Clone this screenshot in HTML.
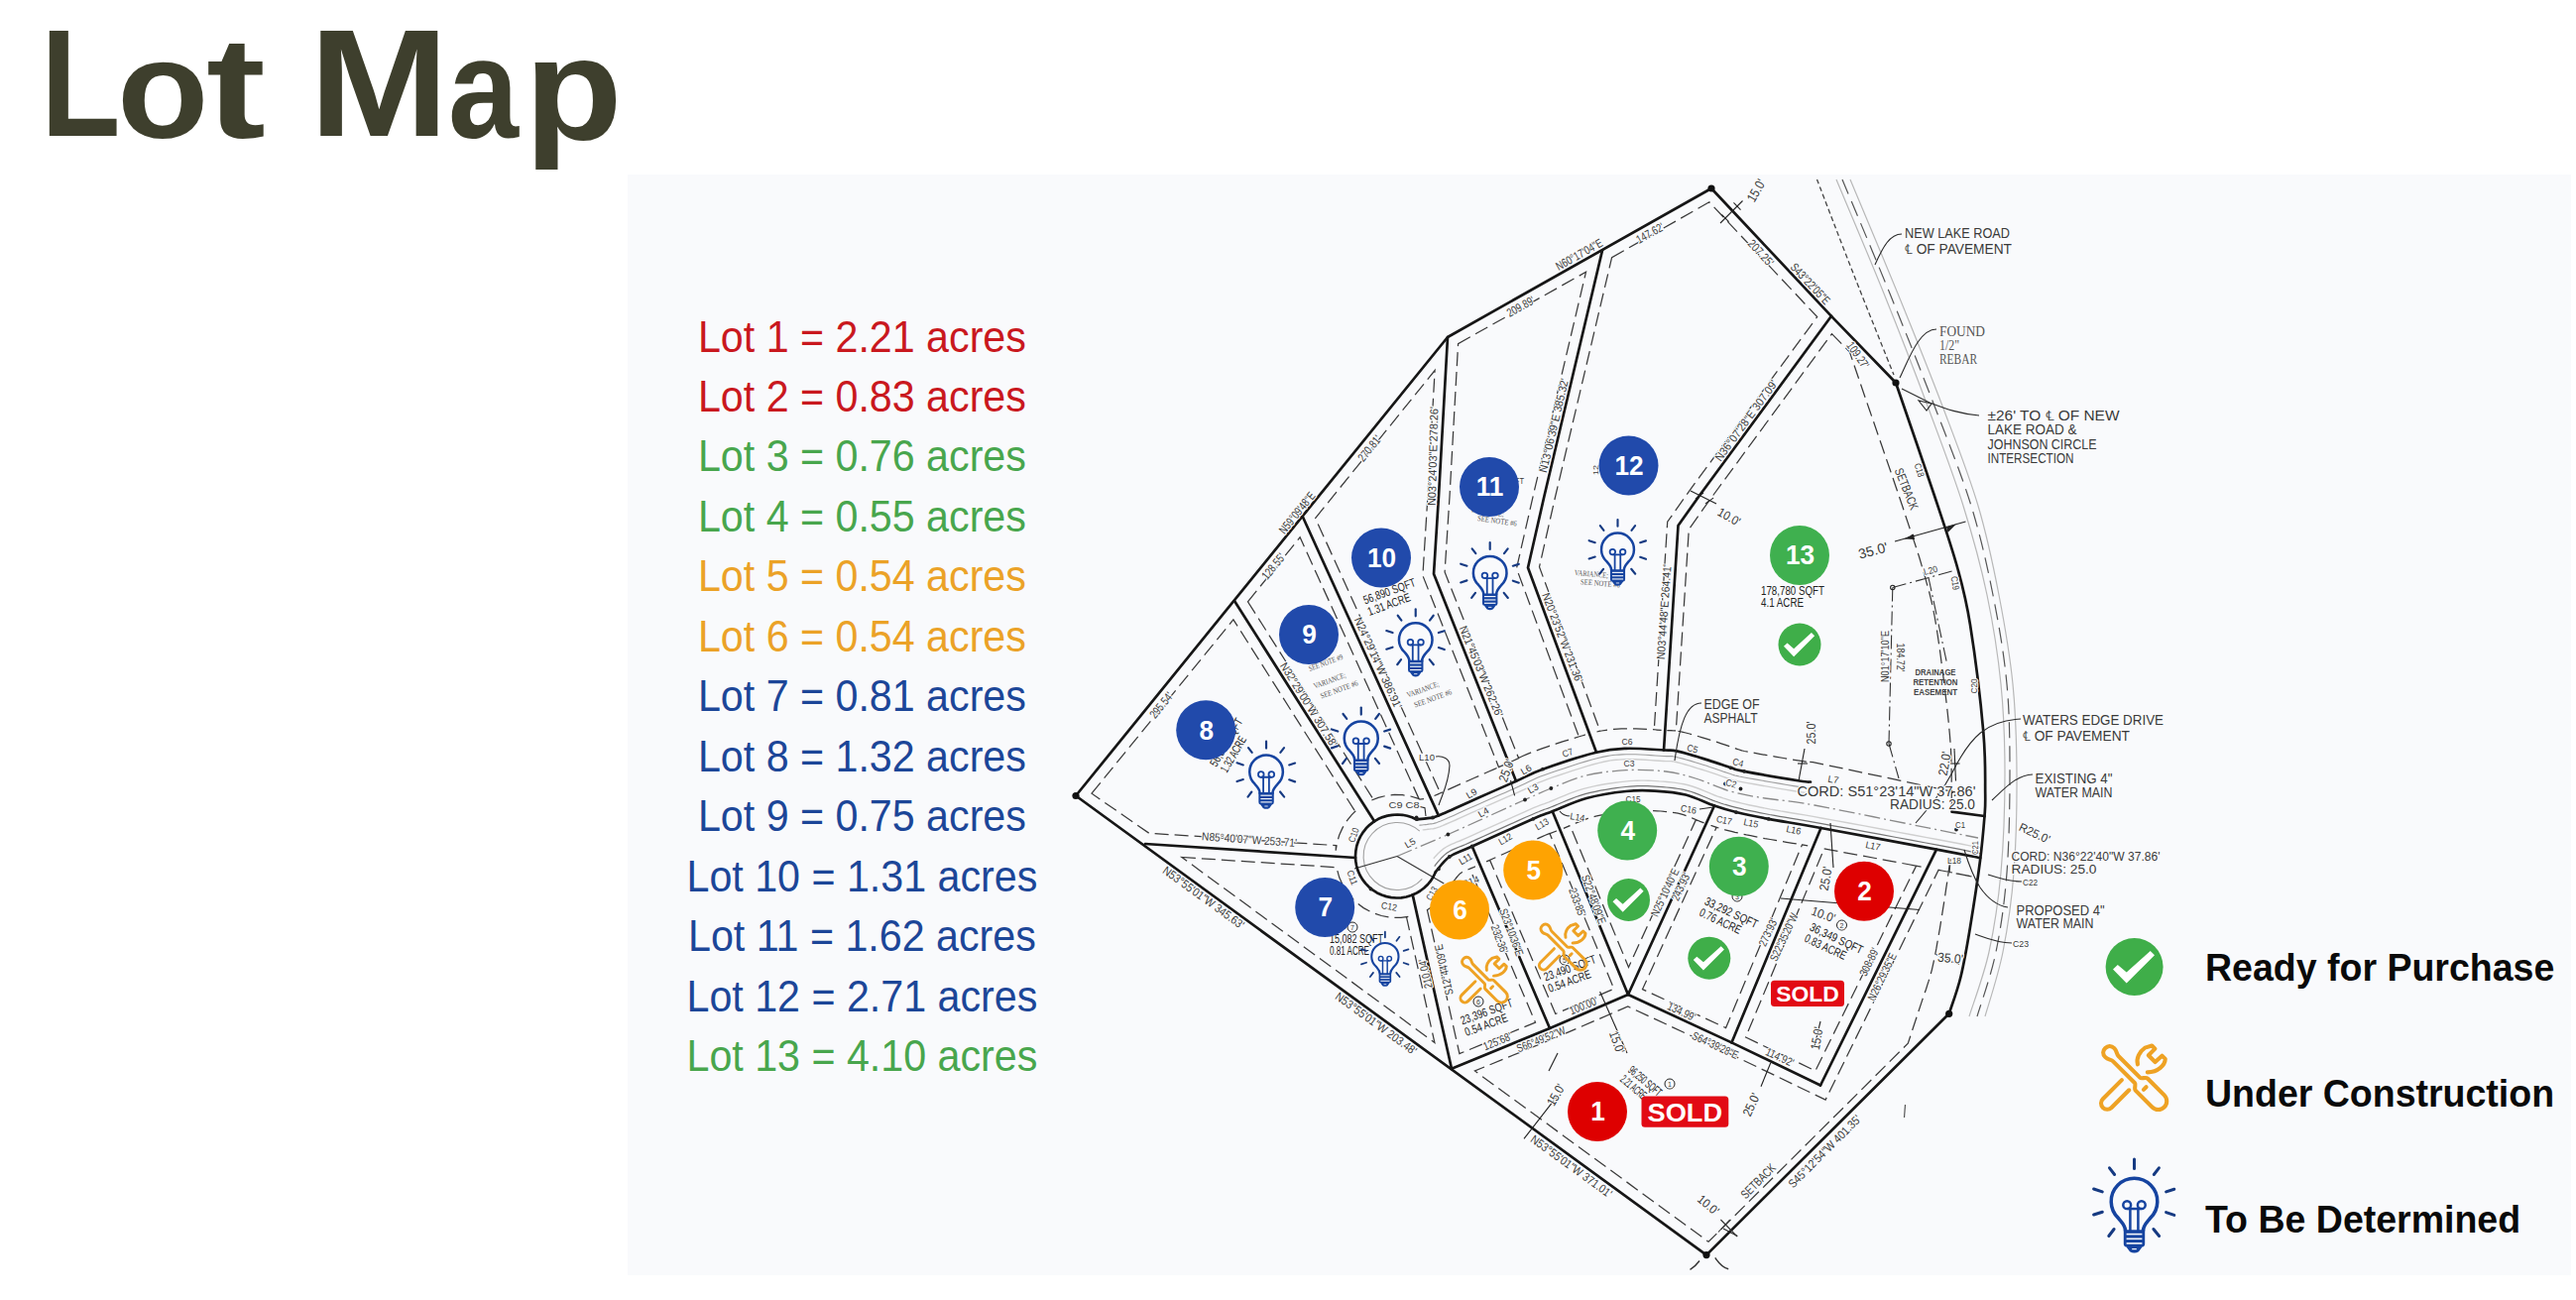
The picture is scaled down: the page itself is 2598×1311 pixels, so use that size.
<!DOCTYPE html>
<html lang="en">
<head>
<meta charset="utf-8">
<title>Lot Map</title>
<style>
html,body{margin:0;padding:0;background:#fff;}
body{width:2598px;height:1311px;overflow:hidden;position:relative;font-family:"Liberation Sans",Arial,sans-serif;}
h1{position:absolute;left:0;top:6.7px;margin:0;width:700px;height:170px;font:700 154.8px/154.8px "Liberation Sans",Arial,sans-serif;color:#3e3f2d;white-space:nowrap;}
h1 span{position:absolute;top:0;transform-origin:0 131.05px;}
#panel{position:absolute;left:633px;top:176px;width:1960px;height:1110px;background:#f9fafc;}
svg#map{position:absolute;left:0;top:0;}
.tk polyline,.tk path{fill:none;stroke:#161616;stroke-width:2.7;stroke-linejoin:round;stroke-linecap:round;}
.sb{fill:none;stroke:#3a3a3a;stroke-width:1.25;stroke-dasharray:14 6;}
.asph{fill:none;stroke:#a0a0a0;stroke-width:1.1;}
.asph2{fill:none;stroke:#cfcfcf;stroke-width:1.4;}
.asphb{fill:none;stroke:#777;stroke-width:1.2;}
.cl{fill:none;stroke:#8a8a8a;stroke-width:1.3;stroke-dasharray:16 4 2 4;}
.thinl{fill:none;stroke:#333;stroke-width:1.1;}
.rd1{fill:none;stroke:#444;stroke-width:1.3;stroke-dasharray:5 3;}
.rd2{fill:none;stroke:#555;stroke-width:1.2;stroke-dasharray:16 8;}
.rg{fill:none;stroke:#b8b8b8;stroke-width:1.2;}
.num{font-family:"Liberation Sans",Arial,sans-serif;font-weight:700;font-size:28.5px;fill:#fff;text-anchor:middle;}
.sold{font-family:"Liberation Sans",Arial,sans-serif;font-weight:700;fill:#fff;}
.lst{font-family:"Liberation Sans",Arial,sans-serif;font-size:43.6px;text-anchor:middle;}
.leg{font-family:"Liberation Sans",Arial,sans-serif;font-weight:700;font-size:39px;fill:#0a0a0a;}
.lb{font-family:"Liberation Sans",Arial,sans-serif;fill:#3a3a3a;paint-order:stroke;stroke:#f9fafc;stroke-width:2.4px;stroke-linejoin:round;}
.lba{fill:#222;}
.lbs{font-family:"Liberation Serif",serif;fill:#555;paint-order:stroke;stroke:#f9fafc;stroke-width:2px;stroke-linejoin:round;}
.lbc{font-family:"Liberation Sans",Arial,sans-serif;font-weight:700;fill:#444;}
</style>
</head>
<body>
<h1><span style="left:40.9px;transform:scaleX(0.8522)">L</span><span style="left:117.7px;transform:translateY(1.94px) scale(0.9786,0.9157)">o</span><span style="left:207.8px;transform:translateY(1.55px) scale(1.1618,0.9366)">t</span> <span style="left:311.5px;transform:scaleX(1.0902)">M</span><span style="left:452.3px;transform:translateY(1.54px) scale(0.8238,0.9169)">a</span><span style="left:529.4px;transform:translateY(4.30px) scale(1.0435,0.9439)">p</span></h1>
<div id="panel"></div>
<svg id="map" width="2598" height="1311" viewBox="0 0 2598 1311">

<defs>
<g id="bulb" fill="none" stroke="#1644a0" stroke-linecap="round" stroke-linejoin="round">
 <g stroke-width="3" stroke="#163a82">
  <line x1="52.5" y1="9" x2="52.5" y2="18.6"/>
  <line x1="27.5" y1="17.8" x2="32.6" y2="24.5"/>
  <line x1="77.4" y1="17.8" x2="72.3" y2="24.5"/>
  <line x1="11.6" y1="39" x2="20.3" y2="41.9"/>
  <line x1="92.8" y1="39.3" x2="84.6" y2="41.9"/>
  <line x1="11.6" y1="65" x2="20.3" y2="62.2"/>
  <line x1="92.8" y1="65.4" x2="84.6" y2="62.6"/>
  <line x1="26.8" y1="86.5" x2="32.1" y2="79.5"/>
  <line x1="77.6" y1="86.5" x2="71.9" y2="79.5"/>
 </g>
 <path stroke-width="3.5" d="M43.6,81.5 C43.6,75.5 39.5,72.3 36.6,68.6 A23.3,23.3 0 1 1 68.4,68.6 C65.5,72.3 61.4,75.5 61.4,81.5"/>
 <g stroke-width="2.5">
  <path d="M48.4,81 L48.4,59 M56.4,81 L56.4,59 M46,59 L59,59"/>
  <circle cx="45.2" cy="55.2" r="3.9"/>
  <circle cx="59.8" cy="55.2" r="3.9"/>
 </g>
 <path fill="#1644a0" stroke="none" d="M41.8,80.2 H63.2 V94.2 Q63.2,97.2 60.5,97.4 L57,102.2 Q52.5,104.6 48,102.2 L44.5,97.4 Q41.8,97.2 41.8,94.2 Z"/>
 <g stroke="#f6f8fb" stroke-width="1.6" stroke-linecap="butt">
  <line x1="44.6" y1="84.6" x2="60.4" y2="84.6"/>
  <line x1="44.6" y1="89.3" x2="60.4" y2="89.3"/>
  <line x1="44.6" y1="93.9" x2="60.4" y2="93.9"/>
  <line x1="50.2" y1="99.6" x2="54.8" y2="99.6" stroke-width="1.2"/>
 </g>
</g>
<g id="tools" fill="none" stroke="#eea224" stroke-width="4.1" stroke-linecap="round" stroke-linejoin="round">
 <g transform="translate(13.6,12.4) rotate(45)">
  <path d="M14.5,-3.8 L45.5,-3.8 C47.5,-3.8 48.5,-8.6 51.5,-8.6 L75,-8.6 A8.6,8.6 0 0 1 75,8.6 L51.5,8.6 C48.5,8.6 47.5,3.8 45.5,3.8 L14.5,3.8 C11.5,3.8 10,6.4 6,6.4 C1.5,6.4 -0.5,3.5 -0.5,0 C-0.5,-3.5 1.5,-6.4 6,-6.4 C10,-6.4 11.5,-3.8 14.5,-3.8 Z"/>
  <line x1="56.4" y1="-1.5" x2="56.4" y2="2.2"/>
 </g>
 <g transform="translate(15.2,67.6) rotate(-45)">
  <path d="M27,-6.2 L0,-6.2 A6.2,6.2 0 0 0 0,6.2 L25,6.2"/>
  <path d="M49.5,-6 C52.5,-11.5 60,-13.8 66.5,-12.6 L73,-9.2 L73,-4.8 L63.6,-4.8 L63.6,4.8 L73,5.2 L73,9.8 C68.5,14 58.5,14.2 50.8,6.6"/>
 </g>
</g>
<g id="check">
 <circle cx="0" cy="0" r="29" fill="#3fae49"/>
 <polygon fill="#fff" points="-21.6,2.5 -16.8,-2.1 -7.9,5.6 16.1,-16.1 20.4,-11.8 -7.9,16.5"/>
</g>
</defs>
<g class="lst-g">
<text class="lst" fill="#c9181e" transform="translate(869.4,354.5) scale(0.945,1)">Lot 1 = 2.21 acres</text>
<text class="lst" fill="#c9181e" transform="translate(869.4,414.9) scale(0.945,1)">Lot 2 = 0.83 acres</text>
<text class="lst" fill="#48a64d" transform="translate(869.4,475.4) scale(0.945,1)">Lot 3 = 0.76 acres</text>
<text class="lst" fill="#48a64d" transform="translate(869.4,535.9) scale(0.945,1)">Lot 4 = 0.55 acres</text>
<text class="lst" fill="#eba227" transform="translate(869.4,596.3) scale(0.945,1)">Lot 5 = 0.54 acres</text>
<text class="lst" fill="#eba227" transform="translate(869.4,656.8) scale(0.945,1)">Lot 6 = 0.54 acres</text>
<text class="lst" fill="#1c4698" transform="translate(869.4,717.2) scale(0.945,1)">Lot 7 = 0.81 acres</text>
<text class="lst" fill="#1c4698" transform="translate(869.4,777.7) scale(0.945,1)">Lot 8 = 1.32 acres</text>
<text class="lst" fill="#1c4698" transform="translate(869.4,838.1) scale(0.945,1)">Lot 9 = 0.75 acres</text>
<text class="lst" fill="#1c4698" transform="translate(869.4,898.6) scale(0.945,1)">Lot 10 = 1.31 acres</text>
<text class="lst" fill="#1c4698" transform="translate(869.4,959) scale(0.945,1)">Lot 11 = 1.62 acres</text>
<text class="lst" fill="#1c4698" transform="translate(869.4,1019.5) scale(0.945,1)">Lot 12 = 2.71 acres</text>
<text class="lst" fill="#48a64d" transform="translate(869.4,1079.9) scale(0.945,1)">Lot 13 = 4.10 acres</text>
</g>
<g class="road">
<path class="rd1" d="M1832.5,181 C1838.8,197.2 1857.1,245.2 1870,278 C1882.9,310.8 1903.3,361.3 1910,378"/>
<path class="rg" d="M1852,181 C1860,200.2 1884.5,257.5 1900,296 C1915.5,334.5 1931.7,376.3 1945,412 C1958.3,447.7 1970.2,478.7 1980,510 C1989.8,541.3 1997.7,570 2004,600 C2010.3,630 2015,660 2018,690 C2021,720 2022,748.3 2022,780 C2022,811.7 2020.7,850 2018,880 C2015.3,910 2011.3,935.8 2006,960 C2000.7,984.2 1989.3,1014.2 1986,1025"/>
<path class="rd2" d="M1858,181 C1866,200.2 1890.3,257.5 1906,296 C1921.7,334.5 1938.3,376.3 1952,412 C1965.7,447.7 1978.3,478.7 1988,510 C1997.7,541.3 2004,570 2010,600 C2016,630 2021.2,660 2024,690 C2026.8,720 2027,748.3 2027,780 C2027,811.7 2026.3,850 2024,880 C2021.7,910 2018,935.8 2013,960 C2008,984.2 1997.2,1014.2 1994,1025"/>
<path class="rg" d="M1866,181 C1874,200.2 1898.3,257.5 1914,296 C1929.7,334.5 1946.5,376.3 1960,412 C1973.5,447.7 1985.7,478.7 1995,510 C2004.3,541.3 2010.2,570 2016,600 C2021.8,630 2027,660 2030,690 C2033,720 2033.8,748.3 2034,780 C2034.2,811.7 2033.3,850 2031,880 C2028.7,910 2024.8,935.8 2020,960 C2015.2,984.2 2005,1014.2 2002,1025"/>
</g>
<g>
<polygon class="sb" points="1470.6,346.6 1599.5,274.3 1546.8,497.5 1529.5,573.3 1592.3,742.7 1598.9,741 1591.9,743 1584.4,745.3 1576.7,747.7 1569.1,750.2 1561.8,752.6 1555.1,754.9 1549.2,757 1544.2,758.9 1539.9,760.6 1536.1,762.2 1532.9,763.8 1530,765.2 1527.2,766.6 1524.3,768 1531.6,764.6 1457.1,577 1462,500.7"/>
<polygon class="sb" points="1326.6,522.6 1447.1,373.5 1440,499.3 1434.9,580.5 1511.5,773.6 1516.6,771.4 1512,773.4 1507.2,775.6 1502.2,777.8 1497.1,780 1492,782.3 1486.9,784.5 1481.9,786.7 1476.7,789 1471.3,791.4 1465.8,793.9 1460.4,796.4 1455.3,798.7 1450.6,800.8 1446.5,802.5 1452.7,799.9"/>
<polygon class="sb" points="1625.6,259.7 1723.9,203.8 1832.7,319.6 1704.8,493.6 1681.7,526.2 1668.3,735.9 1675.6,736.3 1671.3,736 1666.5,735.7 1661.2,735.4 1655.7,735.1 1650.1,734.9 1644.6,734.7 1639.6,734.8 1635.3,734.9 1631.5,735.1 1627.7,735.3 1623.7,735.7 1619.6,736.3 1615.2,737 1610.5,738 1613.8,737.2 1552.5,571.7 1568.2,502.5"/>
<polygon class="sb" points="1847.5,336.6 1865.5,355.1 1882.2,404 1885.4,413.2 1889.2,424.2 1893.4,436.5 1897.9,449.5 1902.5,463 1907.1,476.3 1911.4,489 1915.4,500.7 1918.8,510.8 1921.7,519.7 1924.5,528.1 1927.1,535.9 1929.5,543.1 1931.8,550 1933.9,556.5 1935.9,562.8 1937.7,568.9 1939.5,575 1941.3,581.2 1942.9,587.2 1944.4,592.6 1945.8,597.5 1946.9,602.1 1948,606.5 1949,611 1950,616 1951.1,621.5 1952.2,627.9 1953.4,635.3 1954.7,644 1956.2,653.8 1957.6,664.7 1959.1,676.1 1960.6,687.9 1962,699.7 1963.4,711.2 1964.6,722.2 1965.6,732.2 1966.4,741 1967,748.7 1967.5,755.8 1967.8,762.5 1968,768.8 1968.1,774.8 1968.2,780.4 1968.2,785.7 1968.2,790.8 1968.2,795.7 1968.2,800.4 1968.3,804.2 1968.3,807 1968.3,809.1 1968.3,810.4 1968.3,811.3 1968.2,812.2 1968.2,813.3 1968,815 1967.8,817.3 1969.3,798.5 1971.9,798.9 1828.4,768.6 1824.6,768.4 1823,768.6 1824.1,768.6 1824.3,768.6 1823.5,768.5 1821.4,768.2 1818.1,767.7 1813.1,766.9 1806.5,765.8 1798.8,764.5 1790.5,763.1 1782.3,761.7 1774.6,760.3 1767.9,759.1 1762.7,758.1 1759.3,757.5 1757.2,757 1756.3,756.8 1756.4,756.9 1756.6,756.9 1755.8,756.6 1754.1,756 1751.9,755.3 1749.7,754.6 1747.4,753.8 1744.9,752.9 1742.1,751.9 1739.1,750.9 1735.9,749.8 1732.5,748.6 1729,747.5 1725.3,746.4 1721.3,745.1 1717,743.8 1712.6,742.5 1708.3,741.2 1704,740 1700.1,739 1696.4,738.1 1693.4,737.5 1690.7,737 1688.1,736.7 1685.7,736.6 1684,736.6 1682.7,736.6 1681.3,736.6 1690.3,737 1703.3,533.8 1722.7,506.4"/>
<polygon class="sb" points="1258.5,606.8 1311.1,541.8 1431.6,806.7 1436.4,805.5 1432,806 1430.6,805.3 1422.7,803 1414.5,801.7 1406.3,801.5 1398.1,802.4 1390.1,804.4 1382.4,807.4 1385,806"/>
<polygon class="sb" points="1101,800.2 1243.9,624.8 1366.5,817.9 1368.8,816.2 1363.1,821.8 1358.1,828 1354,834.9 1350.7,842.2 1348.5,849.8 1347.2,857.7 1347.4,852.6 1158.8,840.2"/>
<polygon class="sb" points="1191.9,864.5 1348,874.7 1348.1,875.5 1350.8,885.1 1355,894.1 1360.5,902.3 1367.3,909.5 1375.2,915.6 1383.9,920.3 1393.3,923.5 1403.1,925.3 1413,925.4 1422.8,924 1418.6,925.3 1446.9,1051.5"/>
<polygon class="sb" points="1439.4,917.6 1439.7,917.4 1446.6,912.8 1452.9,907.4 1458.3,901.1 1462.9,894.2 1464.9,890.2 1464.5,890.6 1466,888.6 1467.5,886.8 1468.9,885 1470.3,883.3 1471.6,881.9 1472.6,880.9 1473.5,880.2 1474.4,879.7 1475.2,879.2 1476.2,878.7 1477.8,878 1480.3,877.1 1483.6,875.7 1487.8,874 1482.5,876.3 1548.5,1031.1 1471.9,1062.6"/>
<polygon class="sb" points="1502.6,867.4 1499.1,868.9 1506.6,865.5 1515.1,861.7 1523.9,857.7 1532.8,853.7 1541.1,850 1548.5,846.7 1554.3,844.1 1558.5,842.3 1561.3,841.1 1563.2,840.4 1564.5,839.9 1565.7,839.5 1567.4,838.9 1569.8,838 1563,840.6 1627.7,997.2 1568.8,1022.5"/>
<polygon class="sb" points="1583.5,832.6 1576.9,835.3 1580.9,833.6 1585,831.8 1589.2,830.1 1593.4,828.4 1597.5,826.8 1601.5,825.4 1605.3,824.3 1609.4,823.2 1614,822.2 1618.8,821.3 1623.7,820.4 1628.6,819.6 1633.4,819 1637.9,818.4 1642.1,817.9 1645.8,817.5 1649.1,817.3 1652.1,817.2 1655,817.1 1657.9,817.1 1661,817.2 1664.2,817.4 1667.6,817.6 1671.3,817.8 1674.9,818 1678.6,818.4 1682.2,818.7 1685.6,819.1 1689,819.7 1692.2,820.2 1695.1,820.9 1697.8,821.7 1700.8,822.7 1704,823.9 1707.4,825.3 1710.9,826.8 1714.6,828.4 1718.5,829.9 1710.3,826.9 1642.5,975.4"/>
<polygon class="sb" points="1731.1,834.3 1725.6,832.5 1728.5,833.4 1731.3,834.3 1734.1,835.2 1736.9,836 1739.8,836.8 1742.9,837.6 1746.2,838.4 1749.8,839.3 1753.5,840.1 1757.3,841 1761.3,841.9 1765.5,842.7 1770,843.6 1774.8,844.6 1780,845.6 1785.4,846.5 1790.6,847.4 1796,848.3 1801.6,849.3 1807.8,850.3 1815,851.5 1823.2,852.9 1817.5,851.9 1740.6,1036.6 1656.5,997.6"/>
<polygon class="sb" points="1839.7,855.9 1844.9,856.9 1859.2,859.5 1875.1,862.4 1891.6,865.5 1908.1,868.6 1923.8,871.5 1937.8,874.1 1932.6,873.1 1830.9,1079.9 1760.6,1046"/>
<polygon class="sb" points="1955.1,877.3 1958.5,878 1966.4,879.5 1973,880.8 1978.5,881.9 1983.1,882.8 1987,883.6 1990.4,884.2 1966.1,879.5 1967.1,865 1966.5,869.9 1965.6,876.1 1964.7,882.8 1963.7,889.7 1962.6,896.8 1961.6,903.8 1960.5,910.8 1959.4,917.6 1958.4,924.1 1957.4,930.1 1956.5,935.8 1955.5,941.3 1954.6,946.5 1953.7,951.6 1952.9,956.4 1952,961 1951.1,965.5 1950.2,969.8 1949.3,973.9 1948.4,977.8 1947.4,981.6 1946.3,985.4 1945.1,989.4 1943.8,993.4 1942.6,997.2 1941.3,1001 1940.1,1004.4 1939,1007.6 1938,1010.6 1924.3,1052.2 1723.1,1252.3 1487.4,1080 1567.3,1047.1 1641.8,1015 1741.7,1061.3 1841.1,1109.1"/>
</g>
<g>
<polyline class="asph" points="1431.3,832.2 1432.7,832.1 1434.2,832 1435.9,831.8 1437.7,831.6 1439.4,831.4 1440.9,831.1 1441.9,831 1442.5,830.9 1443.4,830.9 1444.6,830.7 1446.2,830.4 1448,829.9 1450.2,829.1 1453,828 1456.7,826.4 1461,824.6 1465.9,822.4 1471.1,820.1 1476.5,817.6 1482,815.1 1487.4,812.7 1492.4,810.5 1497.4,808.3 1502.5,806.1 1507.6,803.8 1512.7,801.6 1517.7,799.4 1522.5,797.2 1527.1,795.2 1531.5,793.3 1535.3,791.5 1538.6,789.9 1541.5,788.5 1544.2,787.2 1546.9,785.9 1550,784.6 1553.6,783.1 1558,781.4 1563.6,779.5 1570.1,777.3 1577.2,774.9 1584.6,772.5 1592.1,770.1 1599.3,767.9 1605.8,766 1611.5,764.5 1616.2,763.4 1620.1,762.6 1623.6,762 1626.7,761.5 1629.7,761.3 1632.8,761.1 1636.2,760.9 1640.1,760.8 1644.5,760.7 1649.3,760.8 1654.4,761 1659.7,761.3 1664.8,761.6 1669.6,762 1674,762.3 1677.7,762.5 1680.6,762.6 1682.8,762.6 1684.3,762.6 1685.4,762.6 1686.1,762.6 1687,762.7 1688.5,763 1690.7,763.5 1693.6,764.2 1697.2,765.1 1701.1,766.2 1705.2,767.4 1709.5,768.7 1713.7,770 1717.6,771.2 1721.2,772.3 1724.4,773.4 1727.6,774.4 1730.6,775.4 1733.5,776.5 1736.3,777.4 1738.9,778.4 1741.5,779.2 1743.8,780 1745.5,780.6 1746.5,780.9 1747.4,781.3 1748.4,781.6 1749.8,782 1751.6,782.4 1754.2,783 1757.9,783.7 1763.2,784.7 1770,785.9 1777.8,787.3 1786.1,788.7 1794.4,790.1 1802.2,791.5 1808.9,792.6 1814.1,793.4 1817.8,794 1820.5,794.3 1822.5,794.5 1824,794.6 1825.2,794.6 1825.7,794.5 1825.8,794.5"/>
<polyline class="asph2" points="1434.7,836.9 1436.4,836.8 1438.3,836.6 1440.1,836.3 1441.7,836.1 1442.4,836 1442.8,835.9 1443.8,835.9 1445.5,835.7 1447.4,835.3 1449.5,834.6 1451.9,833.8 1454.9,832.6 1458.6,831 1463,829.1 1467.9,827 1473.1,824.6 1478.6,822.2 1484.1,819.7 1489.4,817.3 1494.5,815.1 1499.4,812.9 1504.5,810.6 1509.6,808.4 1514.7,806.1 1519.7,803.9 1524.5,801.8 1529.1,799.8 1533.5,797.8 1537.4,796.1 1540.8,794.4 1543.7,793 1546.3,791.7 1549,790.5 1551.9,789.2 1555.4,787.8 1559.8,786.1 1565.2,784.2 1571.7,782 1578.8,779.6 1586.2,777.2 1593.6,774.9 1600.7,772.7 1607.2,770.8 1612.7,769.4 1617.3,768.3 1621.1,767.5 1624.3,766.9 1627.2,766.5 1630.1,766.2 1633.1,766.1 1636.4,765.9 1640.2,765.8 1644.5,765.7 1649.2,765.8 1654.2,766 1659.4,766.3 1664.4,766.6 1669.3,767 1673.6,767.3 1677.4,767.5 1680.5,767.6 1682.8,767.6 1684.4,767.6 1685.3,767.6 1685.7,767.6 1686.3,767.7 1687.5,767.9 1689.6,768.3 1692.4,769 1695.8,769.9 1699.7,771 1703.8,772.2 1708,773.5 1712.2,774.8 1716.2,776 1719.7,777.1 1722.9,778.1 1725.9,779.1 1728.9,780.2 1731.8,781.2 1734.6,782.2 1737.3,783.1 1739.9,784 1742.3,784.8 1743.9,785.3 1744.8,785.6 1745.6,785.9 1746.9,786.4 1748.5,786.9 1750.5,787.3 1753.2,787.9 1757,788.6 1762.3,789.6 1769.1,790.8 1777,792.2 1785.3,793.6 1793.6,795.1 1801.3,796.4 1808.1,797.5 1813.3,798.4 1817.1,798.9 1819.9,799.3 1822.1,799.5 1824,799.6 1825.6,799.6 1826.1,799.5"/>
<polyline class="asphb" points="1446.7,873.6 1448.2,871.7 1450,869.4 1452,867.1 1454.2,864.7 1456.6,862.4 1459.2,860.3 1461.6,858.7 1463.9,857.4 1466.2,856.4 1468.6,855.4 1471.2,854.3 1474.3,853.1 1478.2,851.5 1482.9,849.4 1489,846.6 1496.5,843.2 1505,839.4 1513.9,835.4 1522.7,831.4 1531.1,827.6 1538.5,824.3 1544.5,821.7 1548.9,819.8 1552.1,818.5 1554.4,817.5 1556.2,816.9 1557.7,816.3 1559.3,815.8 1561.3,815.1 1564.1,814 1567.5,812.6 1571.3,811 1575.5,809.2 1579.8,807.4 1584.4,805.6 1589.1,803.8 1594,802.1 1598.8,800.7 1603.8,799.4 1608.9,798.3 1614.2,797.2 1619.6,796.3 1624.9,795.4 1630,794.7 1635,794 1639.5,793.5 1643.7,793.1 1647.7,792.8 1651.4,792.7 1654.9,792.6 1658.4,792.6 1661.9,792.7 1665.4,792.9 1669.1,793.1 1672.9,793.3 1676.8,793.6 1680.8,794 1684.9,794.4 1689,794.9 1693,795.5 1697.1,796.2 1701.1,797.1 1705.1,798.3 1709.1,799.6 1713,801.1 1716.8,802.7 1720.5,804.2 1724,805.7 1727.3,807.1 1730.5,808.3 1733.4,809.3 1736.1,810.2 1738.6,811 1741.1,811.7 1743.5,812.4 1746.1,813.1 1748.9,813.8 1752.1,814.6 1755.5,815.4 1759,816.3 1762.6,817.1 1766.4,817.9 1770.4,818.7 1774.7,819.6 1779.4,820.5 1784.5,821.5 1789.7,822.4 1794.7,823.3 1800,824.2 1805.6,825.1 1811.9,826.1 1819.1,827.4 1827.5,828.8 1837.3,830.6 1849.3,832.8 1863.7,835.4 1879.5,838.3 1896.1,841.4 1912.6,844.5 1928.3,847.4 1942.3,850 1953.8,852.2 1963.1,853.9 1971,855.4 1977.7,856.7 1983.3,857.8 1987.9,858.8 1991.8,859.5 1995.2,860.2 1998.1,860.8"/>
<polyline class="asph2" points="1445.8,865.8 1447.8,863.4 1450.3,860.8 1453,858.2 1455.9,855.9 1458.8,854 1461.4,852.6 1463.9,851.3 1466.5,850.3 1469.2,849.2 1472.3,848 1476,846.4 1480.6,844.4 1486.7,841.6 1494.2,838.2 1502.7,834.4 1511.6,830.4 1520.5,826.4 1528.9,822.6 1536.3,819.3 1542.3,816.6 1546.7,814.7 1550,813.4 1552.4,812.4 1554.3,811.7 1555.9,811.1 1557.5,810.6 1559.4,809.9 1562.1,808.9 1565.4,807.5 1569.2,805.9 1573.3,804.2 1577.8,802.3 1582.4,800.4 1587.3,798.6 1592.3,796.9 1597.3,795.4 1602.5,794.1 1607.8,792.9 1613.2,791.8 1618.7,790.8 1624.1,790 1629.3,789.2 1634.3,788.6 1639,788.1 1643.3,787.6 1647.4,787.4 1651.2,787.2 1654.9,787.1 1658.5,787.1 1662.1,787.2 1665.7,787.4 1669.4,787.6 1673.3,787.9 1677.3,788.1 1681.3,788.5 1685.5,788.9 1689.7,789.4 1694,790.1 1698.2,790.8 1702.5,791.8 1706.7,793 1711,794.5 1715,796 1718.9,797.6 1722.6,799.2 1726.1,800.7 1729.3,802 1732.3,803.1 1735.2,804 1737.8,804.9 1740.3,805.7 1742.6,806.4 1745,807.1 1747.5,807.8 1750.3,808.5 1753.4,809.3 1756.7,810.1 1760.2,810.9 1763.7,811.7 1767.5,812.5 1771.5,813.3 1775.8,814.2 1780.5,815.1 1785.5,816.1 1790.7,817 1795.7,817.9 1800.9,818.7 1806.5,819.7 1812.8,820.7 1820,821.9 1828.5,823.4 1838.3,825.2 1850.3,827.4 1864.7,830 1880.5,832.9 1897.1,836 1913.6,839.1 1929.3,842 1943.3,844.6 1954.9,846.8 1964.2,848.5 1972.1,850 1978.7,851.3 1984.3,852.4 1989,853.4 1992.9,854.2 1996.2,854.8 1999.1,855.4"/>
<path class="asph" d="M1431.8,838.2 A34,34 0 1,0 1434.3,886.3"/>
<path class="cl" d="M1409,863.5 C1417.6,859.8 1438.9,851 1460.4,841.5 C1481.9,832 1520.7,814.2 1538,806.5 C1555.3,798.8 1554,799.1 1564.3,795 C1574.6,790.9 1587.4,785 1600,782 C1612.6,779 1626.7,777.4 1640,776.7 C1653.3,776 1668.3,776.6 1680,778 C1691.7,779.4 1699.2,781.7 1710,785 C1720.8,788.3 1733.3,794.7 1745,798 C1756.7,801.3 1765.8,802.7 1780,805 C1794.2,807.3 1801.7,806.8 1830,812 C1858.3,817.2 1922.5,830.5 1950,836 C1977.5,841.5 1987.5,843.5 1995,845"/>
<polyline class="thinl" points="1409,863.5 1456.3,891"/>
<polyline class="thinl" points="1409,863.5 1366,876"/>
</g>
<g class="tk">
<polyline points="1085,802.5 1460,340 1726,190 1847,318.8 1912,386"/>
<path d="M1912,386 C1918.5,405 1940.7,469 1951,500 C1961.3,531 1968,550.3 1974,572 C1980,593.7 1982.6,602.3 1987,630 C1991.4,657.7 1997.8,709.7 2000.3,738 C2002.8,766.3 2002,785.8 2002.2,800 C2002.4,814.2 2002.4,811.7 2001.5,823 C2000.6,834.3 1999.4,849.3 1997,868 C1994.6,886.7 1990.2,915.5 1987,935 C1983.8,954.5 1981,970.5 1977.5,985 C1974,999.5 1967.7,1016.1 1965.7,1022.3"/>
<polyline points="1965.7,1022.3 1721,1265.6 1085,802.5"/>
<polyline points="1245,606 1386.1,828.3"/>
<polyline points="1313.8,521 1450.8,822.4"/>
<polyline points="1460,340 1451,500 1446,578.8 1529,787.8"/>
<polyline points="1616,252.5 1557.5,500 1541,572.5 1610,758.7"/>
<polyline points="1847,318.8 1713.8,500 1692.5,530 1678,756.5"/>
<polyline points="1155,851 1367,865"/>
<polyline points="1424.7,902.4 1464,1077.8"/>
<polyline points="1484.7,853.5 1563,1037"/>
<polyline points="1565.7,818.2 1642,1003"/>
<polyline points="1729,812.5 1642,1003"/>
<polyline points="1836.5,835 1746.4,1051.4"/>
<polyline points="1953,856.6 1836,1094.5"/>
<polyline points="1464,1077.8 1563,1037 1642,1003 1746.4,1051.4 1836,1094.5"/>
<polyline points="1428.7,826.4 1424.1,824.3 1419.3,822.8 1414.3,821.8 1409.3,821.5 1404.2,821.8 1399.3,822.6 1394.4,824.1 1389.8,826.1 1385.5,828.7 1381.4,831.8 1377.8,835.3 1374.7,839.3 1372,843.6 1369.9,848.2 1368.3,853 1367.4,857.9 1367,863 1367.2,868 1368.1,873 1369.5,877.9 1371.5,882.5 1374.1,886.9 1377.2,890.9 1380.7,894.5 1384.6,897.7 1388.9,900.4 1393.5,902.5 1398.3,904.1 1403.2,905.1 1408.3,905.5 1413.3,905.3 1418.3,904.5 1423.2,903 1427.8,901.1 1432.2,898.5 1436.2,895.5 1439.9,892 1443.1,888.1 1445.8,883.8 1447.9,879.2"/>
<path d="M1428.7,826.4 C1430.6,826.2 1436.3,825.9 1440,825.2 C1443.7,824.5 1442.5,825.8 1450.8,822.4 C1459.1,819 1477,810.8 1490,805 C1503,799.2 1518,792.7 1529,787.8 C1540,782.9 1542.5,780.6 1556,775.8 C1569.5,770.9 1596,762.2 1610,758.7 C1624,755.2 1628.7,755.2 1640,754.8 C1651.3,754.4 1669.3,756 1678,756.5 C1686.7,757 1684.5,755.9 1692,757.6 C1699.5,759.3 1714,763.8 1723,766.6 C1732,769.4 1739.7,772.4 1745.7,774.3 C1751.7,776.2 1747.5,775.6 1759,777.8 C1770.5,780 1803.8,785.7 1815,787.5 C1826.2,789.3 1824.2,788.3 1826,788.5"/>
<path d="M1447.9,879.2 C1450.3,876.7 1455.7,868.3 1461.8,864 C1467.9,859.7 1470.6,859.9 1484.7,853.5 C1498.8,847.1 1532.8,831.7 1546.3,825.8 C1559.8,819.9 1556.8,821.7 1565.7,818.2 C1574.7,814.7 1587.6,808.4 1600,805 C1612.4,801.6 1628.5,799.2 1640,798 C1651.5,796.8 1658.8,797 1668.8,797.6 C1678.8,798.2 1690,799 1700,801.5 C1710,804 1720.5,809.6 1729,812.5 C1737.5,815.4 1741.9,816.8 1751,819 C1760.1,821.2 1769.5,823.2 1783.7,825.9 C1798,828.6 1808.3,829.9 1836.5,835 C1864.7,840.1 1926.2,851.6 1953,856.6 C1979.8,861.6 1989.8,863.8 1997.2,865.2"/>
<polyline points="1968.5,818.6 2001.5,823"/>
</g>
<g>
<circle cx="1726" cy="190" r="3.6" fill="#111"/>
<circle cx="1912" cy="386" r="3.6" fill="#111"/>
<circle cx="1085" cy="802.5" r="3.6" fill="#111"/>
<circle cx="1721" cy="1265.6" r="3.6" fill="#111"/>
<circle cx="1965.7" cy="1022.3" r="3.6" fill="#111"/>
<circle cx="1428.6" cy="824.5" r="1.9" fill="#222"/>
<circle cx="1445" cy="824.5" r="1.9" fill="#222"/>
<circle cx="1461.8" cy="864" r="1.9" fill="#222"/>
<circle cx="1450.8" cy="876.4" r="1.9" fill="#222"/>
<circle cx="1484.7" cy="853.5" r="1.9" fill="#222"/>
<circle cx="1546.3" cy="825.8" r="1.9" fill="#222"/>
<circle cx="1556" cy="775.6" r="1.9" fill="#222"/>
<circle cx="1745.7" cy="774.3" r="1.9" fill="#222"/>
<circle cx="1759" cy="777.8" r="1.9" fill="#222"/>
<circle cx="1751" cy="819.2" r="1.9" fill="#222"/>
<circle cx="1783.7" cy="825.9" r="1.9" fill="#222"/>
<circle cx="1382.5" cy="896.5" r="1.9" fill="#222"/>
<circle cx="1460.4" cy="841.5" r="1.9" fill="#222"/>
<circle cx="1538" cy="806.5" r="1.9" fill="#222"/>
<circle cx="1564.3" cy="795" r="1.9" fill="#222"/>
<circle cx="1740" cy="790.5" r="1.9" fill="#222"/>
<circle cx="1755.5" cy="795.5" r="1.9" fill="#222"/>
<circle cx="1973" cy="836.5" r="1.9" fill="#222"/>
<circle cx="1429" cy="826" r="1.9" fill="#222"/>
<path d="M1918,236 C1906,236 1899,249 1891,267" fill="none" stroke="#2a2a2a" stroke-width="1.1"/>
<path d="M1953,332 C1936,332 1926,360 1916,381" fill="none" stroke="#2a2a2a" stroke-width="1.1"/>
<path d="M1996,419 C1976,417 1964,413 1946,406 L1918,392" fill="none" stroke="#2a2a2a" stroke-width="1.1"/>
<path d="M1935,404 L1943,414 L1948,407 Z" fill="none" stroke="#2a2a2a" stroke-width="1.1"/>
<path d="M1716,709 C1701,709 1694,730 1689,767" fill="none" stroke="#2a2a2a" stroke-width="1.1"/>
<path d="M2038,725 C2003,727 1987,743 1969,779 C1958,800 1945,815 1932,830" fill="none" stroke="#2a2a2a" stroke-width="1.1"/>
<path d="M2050,781 C2033,782 2022,795 2009,807" fill="none" stroke="#2a2a2a" stroke-width="1.1"/>
<path d="M2025,915 C2012,913 2004,905 1997,895 C1990,884 1985,870 1981,857" fill="none" stroke="#2a2a2a" stroke-width="1.1"/>
<path d="M2039,889 C2025,889 2014,885 2005,882" fill="none" stroke="#2a2a2a" stroke-width="1.1"/>
<path d="M2029,951 C2015,951 2003,946 1992,942" fill="none" stroke="#2a2a2a" stroke-width="1.1"/>
<path d="M1448,763 C1455,762 1462,765 1462,772 C1461,790 1455,800 1451,812" fill="none" stroke="#2a2a2a" stroke-width="1.1"/>
<path d="M1430,813 L1437,814.8 L1438,823" fill="none" stroke="#2a2a2a" stroke-width="1.1"/>
<path d="M1573,818 C1576,822 1580,823 1584,823" fill="none" stroke="#2a2a2a" stroke-width="1.1"/>
<path d="M1714,816 L1728,814" fill="none" stroke="#2a2a2a" stroke-width="1.1"/>
<polyline points="1735,225 1757.5,202.5" fill="none" stroke="#222" stroke-width="1.1"/>
<polyline points="1705,495 1731,508" fill="none" stroke="#222" stroke-width="1.1"/>
<polyline points="1911,546 1982.5,526" fill="none" stroke="#222" stroke-width="1.1"/>
<polyline points="1820,755 1814,787.5" fill="none" stroke="#222" stroke-width="1.1"/>
<polyline points="1971,755 1972.5,787.5" fill="none" stroke="#222" stroke-width="1.1"/>
<polyline points="1846,830 1849,875" fill="none" stroke="#222" stroke-width="1.1"/>
<polyline points="1796,906 1936,917.5" fill="none" stroke="#222" stroke-width="1.1"/>
<polyline points="1952.5,962.5 1976,972.5" fill="none" stroke="#222" stroke-width="1.1"/>
<polyline points="1613.6,1000 1641,1062" fill="none" stroke="#222" stroke-width="1.1"/>
<polyline points="1785.8,1071.8 1776,1095.7" fill="none" stroke="#222" stroke-width="1.1"/>
<polyline points="1537,1148.3 1570.5,1105.3" fill="none" stroke="#222" stroke-width="1.1"/>
<polyline points="1738,1239 1752.3,1246.4" fill="none" stroke="#222" stroke-width="1.1"/>
<polyline points="1523.5,787 1527.6,802.3" fill="none" stroke="#222" stroke-width="1.1"/>
<polyline points="1830,1055 1836,1030" fill="none" stroke="#222" stroke-width="1.1"/>
<polyline points="1562,1080 1571,1062" fill="none" stroke="#222" stroke-width="1.1"/>
<line x1="1735" y1="220" x2="1745" y2="220" stroke="#222" stroke-width="1.1" transform="rotate(45 1740 220)"/>
<line x1="1747" y1="208" x2="1757" y2="208" stroke="#222" stroke-width="1.1" transform="rotate(45 1752 208)"/>
<line x1="1709" y1="500" x2="1719" y2="500" stroke="#222" stroke-width="1.1" transform="rotate(-35 1714 500)"/>
<line x1="1719" y1="505" x2="1729" y2="505" stroke="#222" stroke-width="1.1" transform="rotate(-35 1724 505)"/>
<line x1="1813" y1="770" x2="1823" y2="770" stroke="#222" stroke-width="1.1" transform="rotate(0 1818 770)"/>
<line x1="1966.5" y1="770" x2="1976.5" y2="770" stroke="#222" stroke-width="1.1" transform="rotate(0 1971.5 770)"/>
<path d="M1920,543.5 L1930,538.5 L1931,544 Z" fill="#222"/>
<path d="M1973,528.5 L1963,531.5 L1964.5,537 Z" fill="#222"/>
<polyline points="1908.8,592.5 1972.5,575" fill="none" stroke="#333" stroke-width="1.1" stroke-dasharray="14 4 2 4"/>
<polyline points="1908.8,592.5 1905,750" fill="none" stroke="#333" stroke-width="1.1" stroke-dasharray="14 4 2 4"/>
<polyline points="1945,582.5 1963.8,670" fill="none" stroke="#333" stroke-width="1.1" stroke-dasharray="14 4 2 4"/>
<polyline points="1905,750 1915,785" fill="none" stroke="#333" stroke-width="1.1" stroke-dasharray="14 4 2 4"/>
<circle cx="1908.8" cy="592.5" r="2.2" fill="none" stroke="#222" stroke-width="1.1"/>
<circle cx="1905" cy="750" r="2.2" fill="none" stroke="#222" stroke-width="1.1"/>
<circle cx="1684" cy="1093" r="5" fill="none" stroke="#222" stroke-width="1"/>
<text x="1684" y="1095.5" font-size="7" text-anchor="middle" class="lb">1</text>
<circle cx="1857.5" cy="933" r="5" fill="none" stroke="#222" stroke-width="1"/>
<text x="1857.5" y="935.5" font-size="7" text-anchor="middle" class="lb">2</text>
<circle cx="1752" cy="904" r="5" fill="none" stroke="#222" stroke-width="1"/>
<text x="1752" y="906.5" font-size="7" text-anchor="middle" class="lb">3</text>
<circle cx="1578" cy="968" r="5" fill="none" stroke="#222" stroke-width="1"/>
<text x="1578" y="970.5" font-size="7" text-anchor="middle" class="lb">5</text>
<circle cx="1491" cy="1010" r="5" fill="none" stroke="#222" stroke-width="1"/>
<text x="1491" y="1012.5" font-size="7" text-anchor="middle" class="lb">6</text>
<circle cx="1364" cy="935" r="5" fill="none" stroke="#222" stroke-width="1"/>
<text x="1364" y="937.5" font-size="7" text-anchor="middle" class="lb">7</text>
<circle cx="1808" cy="582" r="5" fill="none" stroke="#222" stroke-width="1"/>
<text x="1808" y="584.5" font-size="7" text-anchor="middle" class="lb">13</text>
<circle cx="1638" cy="852" r="5" fill="none" stroke="#222" stroke-width="1"/>
<text x="1638" y="854.5" font-size="7" text-anchor="middle" class="lb">4</text>
<path d="M1714,1271.5 Q1710,1277 1704.5,1280.3" fill="none" stroke="#333" stroke-width="1.4"/>
<path d="M1729.8,1268.3 Q1736,1278 1743.2,1279.8" fill="none" stroke="#333" stroke-width="1.4"/>
<path d="M1733,1242.5 L1744.6,1230 M1735.4,1230 L1752,1247" fill="none" stroke="#333" stroke-width="1.1"/>
<path d="M1921.5,1114 L1920.5,1127" fill="none" stroke="#555" stroke-width="1.2"/>
</g>
<g>
<text class="lb" font-size="12" text-anchor="middle" transform="translate(1592.5,256.5) rotate(-29.3)" y="4.3" textLength="52" lengthAdjust="spacingAndGlyphs">N60°17'04"E</text>
<text class="lb" font-size="12" text-anchor="middle" transform="translate(1533.5,309) rotate(-29.3)" y="4.3" textLength="30" lengthAdjust="spacingAndGlyphs">209.89'</text>
<text class="lb" font-size="12" text-anchor="middle" transform="translate(1664,235) rotate(-29.3)" y="4.3" textLength="30" lengthAdjust="spacingAndGlyphs">147.62'</text>
<text class="lb" font-size="12" text-anchor="middle" transform="translate(1381,452) rotate(-51)" y="4.3" textLength="30" lengthAdjust="spacingAndGlyphs">270.81'</text>
<text class="lb" font-size="11.5" text-anchor="middle" transform="translate(1445,460) rotate(-88.5)" y="4.1" textLength="100" lengthAdjust="spacingAndGlyphs">N03°24'03"E  278.26'</text>
<text class="lb" font-size="11.5" text-anchor="middle" transform="translate(1567,429) rotate(-76.7)" y="4.1" textLength="97" lengthAdjust="spacingAndGlyphs">N13°06'39"E  385.32'</text>
<text class="lb" font-size="13.5" text-anchor="middle" transform="translate(1771,192) rotate(-60)" y="4.9" textLength="24" lengthAdjust="spacingAndGlyphs">15.0'</text>
<text class="lb" font-size="12" text-anchor="middle" transform="translate(1776,255) rotate(46.8)" y="4.3" textLength="32" lengthAdjust="spacingAndGlyphs">207.25'</text>
<text class="lb" font-size="12" text-anchor="middle" transform="translate(1826,286) rotate(46.8)" y="4.3" textLength="52" lengthAdjust="spacingAndGlyphs">S43°22'05"E</text>
<text class="lb" font-size="12" text-anchor="middle" transform="translate(1874,358) rotate(55)" y="4.3" textLength="30" lengthAdjust="spacingAndGlyphs">109.27'</text>
<text class="lb" font-size="11.5" text-anchor="middle" transform="translate(1761,424) rotate(-53.7)" y="4.1" textLength="98" lengthAdjust="spacingAndGlyphs">N36°07'28"E  307.09'</text>
<text class="lb" font-size="12.5" text-anchor="middle" transform="translate(1923,493) rotate(68)" y="4.5" textLength="44" lengthAdjust="spacingAndGlyphs">SETBACK</text>
<text class="lb" font-size="9.5" text-anchor="middle" transform="translate(1936,474) rotate(72)" y="3.4" textLength="14" lengthAdjust="spacingAndGlyphs">C18</text>
<text class="lb" font-size="12.5" text-anchor="middle" transform="translate(1744,521) rotate(30)" y="4.5" textLength="24" lengthAdjust="spacingAndGlyphs">10.0'</text>
<text class="lb" font-size="11.5" text-anchor="middle" transform="translate(1678,617) rotate(-86)" y="4.1" textLength="96" lengthAdjust="spacingAndGlyphs">N03°44'48"E  264.41'</text>
<text class="lb" font-size="14" text-anchor="middle" transform="translate(1889,555) rotate(-15)" y="5" textLength="30" lengthAdjust="spacingAndGlyphs">35.0'</text>
<text class="lb" font-size="9.5" text-anchor="middle" transform="translate(1947,575) rotate(-15)" y="3.4" textLength="14" lengthAdjust="spacingAndGlyphs">L20</text>
<text class="lb" font-size="9.5" text-anchor="middle" transform="translate(1972,588) rotate(80)" y="3.4" textLength="14" lengthAdjust="spacingAndGlyphs">C19</text>
<text class="lb" font-size="11.5" text-anchor="middle" transform="translate(1900.5,662) rotate(-90)" y="4.1" textLength="52" lengthAdjust="spacingAndGlyphs">N01°17'10"E</text>
<text class="lb" font-size="11.5" text-anchor="middle" transform="translate(1917,663) rotate(90)" y="4.1" textLength="29" lengthAdjust="spacingAndGlyphs">184.72'</text>
<text class="lb" font-size="9.5" text-anchor="middle" transform="translate(1991,692) rotate(-90)" y="3.4" textLength="15" lengthAdjust="spacingAndGlyphs">C20</text>
<text class="lb" font-size="13" text-anchor="middle" transform="translate(1826,739) rotate(-90)" y="4.7" textLength="23" lengthAdjust="spacingAndGlyphs">25.0'</text>
<text class="lb" font-size="13" text-anchor="middle" transform="translate(1961,770) rotate(-80)" y="4.7" textLength="24" lengthAdjust="spacingAndGlyphs">22.0'</text>
<text class="lb" font-size="9.5" text-anchor="middle" transform="translate(1707,755) rotate(15)" y="3.4" textLength="11" lengthAdjust="spacingAndGlyphs">C5</text>
<text class="lb" font-size="9.5" text-anchor="middle" transform="translate(1753,769) rotate(15)" y="3.4" textLength="11" lengthAdjust="spacingAndGlyphs">C4</text>
<text class="lb" font-size="9.5" text-anchor="middle" transform="translate(1746,790) rotate(15)" y="3.4" textLength="11" lengthAdjust="spacingAndGlyphs">C2</text>
<text class="lb" font-size="9.5" text-anchor="middle" transform="translate(1849,786) rotate(10)" y="3.4" textLength="11" lengthAdjust="spacingAndGlyphs">L7</text>
<text class="lb" font-size="9.5" text-anchor="middle" transform="translate(1641,748) rotate(0)" y="3.4" textLength="11" lengthAdjust="spacingAndGlyphs">C6</text>
<text class="lb" font-size="9.5" text-anchor="middle" transform="translate(1643,770) rotate(0)" y="3.4" textLength="11" lengthAdjust="spacingAndGlyphs">C3</text>
<text class="lb" font-size="9.5" text-anchor="middle" transform="translate(1581,759) rotate(-20)" y="3.4" textLength="11" lengthAdjust="spacingAndGlyphs">C7</text>
<text class="lb" font-size="9.5" text-anchor="middle" transform="translate(1539,776) rotate(-30)" y="3.4" textLength="11" lengthAdjust="spacingAndGlyphs">L6</text>
<text class="lb" font-size="9.5" text-anchor="middle" transform="translate(1546,795) rotate(-30)" y="3.4" textLength="11" lengthAdjust="spacingAndGlyphs">L3</text>
<text class="lb" font-size="9.5" text-anchor="middle" transform="translate(1484,800) rotate(-30)" y="3.4" textLength="11" lengthAdjust="spacingAndGlyphs">L9</text>
<text class="lb" font-size="9.5" text-anchor="middle" transform="translate(1496,819) rotate(-30)" y="3.4" textLength="11" lengthAdjust="spacingAndGlyphs">L4</text>
<text class="lb" font-size="9.5" text-anchor="middle" transform="translate(1422,850) rotate(-30)" y="3.4" textLength="11" lengthAdjust="spacingAndGlyphs">L5</text>
<text class="lb" font-size="9.5" text-anchor="middle" transform="translate(1416,812) rotate(0)" y="3.4" textLength="31" lengthAdjust="spacingAndGlyphs">C9  C8</text>
<text class="lb" font-size="9.5" text-anchor="middle" transform="translate(1439,764) rotate(0)" y="3.4" textLength="16" lengthAdjust="spacingAndGlyphs">L10</text>
<text class="lb" font-size="9.5" text-anchor="middle" transform="translate(1365,842) rotate(-70)" y="3.4" textLength="15" lengthAdjust="spacingAndGlyphs">C10</text>
<text class="lb" font-size="9.5" text-anchor="middle" transform="translate(1364,885) rotate(70)" y="3.4" textLength="15" lengthAdjust="spacingAndGlyphs">C11</text>
<text class="lb" font-size="9.5" text-anchor="middle" transform="translate(1401,914) rotate(10)" y="3.4" textLength="16" lengthAdjust="spacingAndGlyphs">C12</text>
<text class="lb" font-size="9.5" text-anchor="middle" transform="translate(1444,901) rotate(-60)" y="3.4" textLength="14" lengthAdjust="spacingAndGlyphs">C13</text>
<text class="lb" font-size="9.5" text-anchor="middle" transform="translate(1483,889) rotate(-20)" y="3.4" textLength="18" lengthAdjust="spacingAndGlyphs">C14</text>
<text class="lb" font-size="9.5" text-anchor="middle" transform="translate(1478,866) rotate(-30)" y="3.4" textLength="14" lengthAdjust="spacingAndGlyphs">L11</text>
<text class="lb" font-size="9.5" text-anchor="middle" transform="translate(1518,846) rotate(-30)" y="3.4" textLength="14" lengthAdjust="spacingAndGlyphs">L12</text>
<text class="lb" font-size="9.5" text-anchor="middle" transform="translate(1555,831) rotate(-30)" y="3.4" textLength="14" lengthAdjust="spacingAndGlyphs">L13</text>
<text class="lb" font-size="9.5" text-anchor="middle" transform="translate(1591,824) rotate(10)" y="3.4" textLength="15" lengthAdjust="spacingAndGlyphs">L14</text>
<text class="lb" font-size="9.5" text-anchor="middle" transform="translate(1647,806) rotate(0)" y="3.4" textLength="15" lengthAdjust="spacingAndGlyphs">C15</text>
<text class="lb" font-size="9.5" text-anchor="middle" transform="translate(1703,816) rotate(10)" y="3.4" textLength="16" lengthAdjust="spacingAndGlyphs">C16</text>
<text class="lb" font-size="9.5" text-anchor="middle" transform="translate(1739,827) rotate(12)" y="3.4" textLength="16" lengthAdjust="spacingAndGlyphs">C17</text>
<text class="lb" font-size="9.5" text-anchor="middle" transform="translate(1766,830) rotate(12)" y="3.4" textLength="15" lengthAdjust="spacingAndGlyphs">L15</text>
<text class="lb" font-size="9.5" text-anchor="middle" transform="translate(1809,837) rotate(12)" y="3.4" textLength="15" lengthAdjust="spacingAndGlyphs">L16</text>
<text class="lb" font-size="9.5" text-anchor="middle" transform="translate(1889,853) rotate(12)" y="3.4" textLength="15" lengthAdjust="spacingAndGlyphs">L17</text>
<text class="lb" font-size="9.5" text-anchor="middle" transform="translate(1977,832) rotate(0)" y="3.4" textLength="10" lengthAdjust="spacingAndGlyphs">C1</text>
<text class="lb" font-size="9.5" text-anchor="middle" transform="translate(1992,855) rotate(-90)" y="3.4" textLength="14" lengthAdjust="spacingAndGlyphs">C21</text>
<text class="lb" font-size="9.5" text-anchor="middle" transform="translate(1971,868) rotate(0)" y="3.4" textLength="14" lengthAdjust="spacingAndGlyphs">L18</text>
<text class="lb" font-size="13" text-anchor="middle" transform="translate(1841,886) rotate(-80)" y="4.7" textLength="24" lengthAdjust="spacingAndGlyphs">25.0'</text>
<text class="lb" font-size="12.5" text-anchor="middle" transform="translate(1839,922) rotate(20)" y="4.5" textLength="25" lengthAdjust="spacingAndGlyphs">10.0'</text>
<text class="lb" font-size="13" text-anchor="middle" transform="translate(1519,777) rotate(-70)" y="4.7" textLength="23" lengthAdjust="spacingAndGlyphs">25.0'</text>
<text class="lb" font-size="13" text-anchor="middle" transform="translate(1766,1114) rotate(-65)" y="4.7" textLength="24" lengthAdjust="spacingAndGlyphs">25.0'</text>
<text class="lb" font-size="13" text-anchor="middle" transform="translate(1832,1047) rotate(-80)" y="4.7" textLength="23" lengthAdjust="spacingAndGlyphs">15.0'</text>
<text class="lb" font-size="13" text-anchor="middle" transform="translate(1631,1051) rotate(70)" y="4.7" textLength="23" lengthAdjust="spacingAndGlyphs">15.0'</text>
<text class="lb" font-size="13" text-anchor="middle" transform="translate(1569,1104) rotate(-60)" y="4.7" textLength="23" lengthAdjust="spacingAndGlyphs">15.0'</text>
<text class="lb" font-size="12.5" text-anchor="middle" transform="translate(1723,1215) rotate(40)" y="4.5" textLength="24" lengthAdjust="spacingAndGlyphs">10.0'</text>
<text class="lb" font-size="13" text-anchor="middle" transform="translate(1967,966) rotate(5)" y="4.7" textLength="26" lengthAdjust="spacingAndGlyphs">35.0'</text>
<text class="lb" font-size="11.5" text-anchor="middle" transform="translate(1679,900) rotate(-65)" y="4.1" textLength="52" lengthAdjust="spacingAndGlyphs">N25°10'40"E</text>
<text class="lb" font-size="11.5" text-anchor="middle" transform="translate(1695,894) rotate(-65)" y="4.1" textLength="30" lengthAdjust="spacingAndGlyphs">243.93'</text>
<text class="lb" font-size="11.5" text-anchor="middle" transform="translate(1783,940) rotate(-65)" y="4.1" textLength="30" lengthAdjust="spacingAndGlyphs">273.93'</text>
<text class="lb" font-size="11.5" text-anchor="middle" transform="translate(1799,945) rotate(-65)" y="4.1" textLength="52" lengthAdjust="spacingAndGlyphs">S22°35'20"W</text>
<text class="lb" font-size="11.5" text-anchor="middle" transform="translate(1885,970) rotate(-64)" y="4.1" textLength="30" lengthAdjust="spacingAndGlyphs">308.89'</text>
<text class="lb" font-size="11.5" text-anchor="middle" transform="translate(1898,985) rotate(-64)" y="4.1" textLength="52" lengthAdjust="spacingAndGlyphs">N26°29'35"E</text>
<text class="lb" font-size="11.5" text-anchor="middle" transform="translate(1696,1020) rotate(25)" y="4.1" textLength="30" lengthAdjust="spacingAndGlyphs">134.99'</text>
<text class="lb" font-size="11.5" text-anchor="middle" transform="translate(1730,1054) rotate(25)" y="4.1" textLength="50" lengthAdjust="spacingAndGlyphs">S64°39'28"E</text>
<text class="lb" font-size="11.5" text-anchor="middle" transform="translate(1795,1066) rotate(25)" y="4.1" textLength="30" lengthAdjust="spacingAndGlyphs">114.92'</text>
<text class="lb" font-size="11.5" text-anchor="middle" transform="translate(1510,1050) rotate(-22)" y="4.1" textLength="30" lengthAdjust="spacingAndGlyphs">125.68'</text>
<text class="lb" font-size="11.5" text-anchor="middle" transform="translate(1554,1048) rotate(-22)" y="4.1" textLength="52" lengthAdjust="spacingAndGlyphs">S66°49'52"W</text>
<text class="lb" font-size="11.5" text-anchor="middle" transform="translate(1597,1014) rotate(-22)" y="4.1" textLength="30" lengthAdjust="spacingAndGlyphs">100.00'</text>
<text class="lb" font-size="11.5" text-anchor="middle" transform="translate(1437.5,982) rotate(-102.6)" y="4.1" textLength="30" lengthAdjust="spacingAndGlyphs">210.04'</text>
<text class="lb" font-size="11.5" text-anchor="middle" transform="translate(1456,978) rotate(-102.6)" y="4.1" textLength="52" lengthAdjust="spacingAndGlyphs">S12°44'09"E</text>
<text class="lb" font-size="11.5" text-anchor="middle" transform="translate(1512.5,947) rotate(70)" y="4.1" textLength="30" lengthAdjust="spacingAndGlyphs">232.36'</text>
<text class="lb" font-size="11.5" text-anchor="middle" transform="translate(1524.5,940) rotate(70)" y="4.1" textLength="50" lengthAdjust="spacingAndGlyphs">S23°10'36"E</text>
<text class="lb" font-size="11.5" text-anchor="middle" transform="translate(1591,910) rotate(70)" y="4.1" textLength="30" lengthAdjust="spacingAndGlyphs">233.85'</text>
<text class="lb" font-size="11.5" text-anchor="middle" transform="translate(1607.5,907) rotate(70)" y="4.1" textLength="52" lengthAdjust="spacingAndGlyphs">S22°48'09"E</text>
<text class="lb" font-size="11.5" text-anchor="middle" transform="translate(1260,846.5) rotate(4)" y="4.1" textLength="96" lengthAdjust="spacingAndGlyphs">N85°40'07"W  253.71'</text>
<text class="lb" font-size="12" text-anchor="middle" transform="translate(1214,905) rotate(36)" y="4.3" textLength="98" lengthAdjust="spacingAndGlyphs">N53°55'01"W  345.63'</text>
<text class="lb" font-size="12" text-anchor="middle" transform="translate(1388,1032) rotate(36)" y="4.3" textLength="98" lengthAdjust="spacingAndGlyphs">N53°55'01"W  203.48'</text>
<text class="lb" font-size="12" text-anchor="middle" transform="translate(1585,1176) rotate(36)" y="4.3" textLength="98" lengthAdjust="spacingAndGlyphs">N53°55'01"W  371.01'</text>
<text class="lb" font-size="12" text-anchor="middle" transform="translate(1840,1161) rotate(-45)" y="4.3" textLength="98" lengthAdjust="spacingAndGlyphs">S45°12'54"W  401.35'</text>
<text class="lb" font-size="12" text-anchor="middle" transform="translate(2052,840) rotate(25)" y="4.3" textLength="33" lengthAdjust="spacingAndGlyphs">R25.0'</text>
<text class="lb" font-size="12.5" text-anchor="middle" transform="translate(1773,1191) rotate(-45)" y="4.5" textLength="44" lengthAdjust="spacingAndGlyphs">SETBACK</text>
<text class="lb" font-size="12" text-anchor="middle" transform="translate(1308,517) rotate(-51)" y="4.3" textLength="50" lengthAdjust="spacingAndGlyphs">N59°09'48"E</text>
<text class="lb" font-size="12" text-anchor="middle" transform="translate(1284,571) rotate(-51)" y="4.3" textLength="30" lengthAdjust="spacingAndGlyphs">128.55'</text>
<text class="lb" font-size="12" text-anchor="middle" transform="translate(1171,711) rotate(-51)" y="4.3" textLength="30" lengthAdjust="spacingAndGlyphs">295.54'</text>
<text class="lb" font-size="11.5" text-anchor="middle" transform="translate(1320,710.5) rotate(57.9)" y="4.1" textLength="98" lengthAdjust="spacingAndGlyphs">N32°29'00"W  307.58'</text>
<text class="lb" font-size="11.5" text-anchor="middle" transform="translate(1390,668.5) rotate(65.5)" y="4.1" textLength="100" lengthAdjust="spacingAndGlyphs">N24°29'14"W  386.91'</text>
<text class="lb" font-size="11.5" text-anchor="middle" transform="translate(1494,677) rotate(67.5)" y="4.1" textLength="98" lengthAdjust="spacingAndGlyphs">N21°45'03"W  262.26'</text>
<text class="lb" font-size="11.5" text-anchor="middle" transform="translate(1576,643) rotate(69)" y="4.1" textLength="96" lengthAdjust="spacingAndGlyphs">N20°23'52"W  231.36'</text>
<text class="lbs" font-size="8" text-anchor="middle" transform="translate(1337,668) rotate(-20)" y="2.9" textLength="36" lengthAdjust="spacingAndGlyphs">SEE NOTE #9</text>
<text class="lbs" font-size="8" text-anchor="middle" transform="translate(1341,686) rotate(-20)" y="2.9" textLength="34" lengthAdjust="spacingAndGlyphs">VARIANCE;</text>
<text class="lbs" font-size="8" text-anchor="middle" transform="translate(1350.5,695) rotate(-20)" y="2.9" textLength="40" lengthAdjust="spacingAndGlyphs">SEE NOTE #6</text>
<text class="lbs" font-size="8" text-anchor="middle" transform="translate(1435,695) rotate(-20)" y="2.9" textLength="34" lengthAdjust="spacingAndGlyphs">VARIANCE;</text>
<text class="lbs" font-size="8" text-anchor="middle" transform="translate(1445,704) rotate(-20)" y="2.9" textLength="40" lengthAdjust="spacingAndGlyphs">SEE NOTE #6</text>
<text class="lbs" font-size="8" text-anchor="middle" transform="translate(1605,578.5) rotate(5)" y="2.9" textLength="34" lengthAdjust="spacingAndGlyphs">VARIANCE;</text>
<text class="lbs" font-size="8" text-anchor="middle" transform="translate(1614,588) rotate(5)" y="2.9" textLength="40" lengthAdjust="spacingAndGlyphs">SEE NOTE #6</text>
<text class="lbs" font-size="8" text-anchor="middle" transform="translate(1500,516) rotate(8)" y="2.9" textLength="34" lengthAdjust="spacingAndGlyphs">VARIANCE;</text>
<text class="lbs" font-size="8" text-anchor="middle" transform="translate(1510,525) rotate(8)" y="2.9" textLength="40" lengthAdjust="spacingAndGlyphs">SEE NOTE #6</text>
<text class="lb" font-size="9" text-anchor="middle" transform="translate(1527,485) rotate(0)" y="3.2" textLength="20" lengthAdjust="spacingAndGlyphs">SQFT</text>
<text class="lb" font-size="8" text-anchor="middle" transform="translate(1609,474) rotate(-90)" y="2.9" textLength="10" lengthAdjust="spacingAndGlyphs">12</text>
<g transform="translate(1808,601) rotate(0)"><text class="lb lba" font-size="12" x="-32" y="-1" textLength="64" lengthAdjust="spacingAndGlyphs">178,780  SQFT</text><text class="lb lba" font-size="12" x="-32" y="11.4" textLength="43" lengthAdjust="spacingAndGlyphs">4.1  ACRE</text></g>
<g transform="translate(1744,925) rotate(25)"><text class="lb lba" font-size="12" x="-29" y="-1" textLength="58" lengthAdjust="spacingAndGlyphs">33,292  SQFT</text><text class="lb lba" font-size="12" x="-29" y="11.4" textLength="45" lengthAdjust="spacingAndGlyphs">0.76  ACRE</text></g>
<g transform="translate(1850,951) rotate(25)"><text class="lb lba" font-size="12" x="-29" y="-1" textLength="58" lengthAdjust="spacingAndGlyphs">36,349  SQFT</text><text class="lb lba" font-size="12" x="-29" y="11.4" textLength="45" lengthAdjust="spacingAndGlyphs">0.83  ACRE</text></g>
<g transform="translate(1501,1025) rotate(-20)"><text class="lb lba" font-size="12" x="-27.5" y="-1" textLength="55" lengthAdjust="spacingAndGlyphs">23,396  SQFT</text><text class="lb lba" font-size="12" x="-27.5" y="11.4" textLength="45" lengthAdjust="spacingAndGlyphs">0.54  ACRE</text></g>
<g transform="translate(1585,981) rotate(-20)"><text class="lb lba" font-size="12" x="-27.5" y="-1" textLength="55" lengthAdjust="spacingAndGlyphs">23,490  SQFT</text><text class="lb lba" font-size="12" x="-27.5" y="11.4" textLength="45" lengthAdjust="spacingAndGlyphs">0.54  ACRE</text></g>
<g transform="translate(1403,601) rotate(-20)"><text class="lb lba" font-size="12" x="-27.5" y="-1" textLength="55" lengthAdjust="spacingAndGlyphs">56,890  SQFT</text><text class="lb lba" font-size="12" x="-27.5" y="11.4" textLength="45" lengthAdjust="spacingAndGlyphs">1.31  ACRE</text></g>
<g transform="translate(1368,952) rotate(0)"><text class="lb lba" font-size="12" x="-27" y="-1" textLength="54" lengthAdjust="spacingAndGlyphs">15,082  SQFT</text><text class="lb lba" font-size="12" x="-27" y="11.4" textLength="40" lengthAdjust="spacingAndGlyphs">0.81  ACRE</text></g>
<g transform="translate(1241,751) rotate(-60)"><text class="lb lba" font-size="12" x="-27" y="-1" textLength="54" lengthAdjust="spacingAndGlyphs">56,830  SQFT</text><text class="lb lba" font-size="12" x="-27" y="11.4" textLength="40" lengthAdjust="spacingAndGlyphs">1.32  ACRE</text></g>
<g transform="translate(1656,1094) rotate(40)"><text class="lb lba" font-size="12" x="-20" y="-1" textLength="40" lengthAdjust="spacingAndGlyphs">96,250  SQFT</text><text class="lb lba" font-size="12" x="-20" y="11.4" textLength="30" lengthAdjust="spacingAndGlyphs">2.21  ACRE</text></g>
<text class="lb" font-size="14" x="1921" y="240" text-anchor="start" textLength="106" lengthAdjust="spacingAndGlyphs">NEW  LAKE  ROAD</text>
<text class="lb" font-size="14" x="1921" y="255.5" text-anchor="start" textLength="108" lengthAdjust="spacingAndGlyphs">℄  OF  PAVEMENT</text>
<text class="lbs" font-size="14.5" x="1956" y="339" text-anchor="start" textLength="46" lengthAdjust="spacingAndGlyphs">FOUND</text>
<text class="lbs" font-size="14.5" x="1956" y="353" text-anchor="start" textLength="20" lengthAdjust="spacingAndGlyphs">1/2"</text>
<text class="lbs" font-size="14.5" x="1956" y="367" text-anchor="start" textLength="38" lengthAdjust="spacingAndGlyphs">REBAR</text>
<text class="lb" font-size="14" x="2004.5" y="424" text-anchor="start" textLength="133" lengthAdjust="spacingAndGlyphs">±26'  TO  ℄  OF  NEW</text>
<text class="lb" font-size="14" x="2004.5" y="438.3" text-anchor="start" textLength="90" lengthAdjust="spacingAndGlyphs">LAKE  ROAD  &amp;</text>
<text class="lb" font-size="14" x="2004.5" y="452.6" text-anchor="start" textLength="110" lengthAdjust="spacingAndGlyphs">JOHNSON  CIRCLE</text>
<text class="lb" font-size="14" x="2004.5" y="466.9" text-anchor="start" textLength="87" lengthAdjust="spacingAndGlyphs">INTERSECTION</text>
<text class="lb" font-size="14.5" x="1718.5" y="715" text-anchor="start" textLength="56" lengthAdjust="spacingAndGlyphs">EDGE  OF</text>
<text class="lb" font-size="14.5" x="1718.5" y="729" text-anchor="start" textLength="54" lengthAdjust="spacingAndGlyphs">ASPHALT</text>
<text class="lbc" font-size="9.5" x="1952" y="681" text-anchor="middle" textLength="41" lengthAdjust="spacingAndGlyphs">DRAINAGE</text>
<text class="lbc" font-size="9.5" x="1952" y="690.8" text-anchor="middle" textLength="45" lengthAdjust="spacingAndGlyphs">RETENTION</text>
<text class="lbc" font-size="9.5" x="1952" y="700.6" text-anchor="middle" textLength="44" lengthAdjust="spacingAndGlyphs">EASEMENT</text>
<text class="lb" font-size="15" x="1812.5" y="802.5" text-anchor="start" textLength="180" lengthAdjust="spacingAndGlyphs">CORD:  S51°23'14"W  37.86'</text>
<text class="lb" font-size="15" x="1906" y="816" text-anchor="start" textLength="86" lengthAdjust="spacingAndGlyphs">RADIUS:  25.0</text>
<text class="lb" font-size="14" x="2040" y="731" text-anchor="start" textLength="142" lengthAdjust="spacingAndGlyphs">WATERS  EDGE  DRIVE</text>
<text class="lb" font-size="14" x="2040" y="747" text-anchor="start" textLength="108" lengthAdjust="spacingAndGlyphs">℄  OF  PAVEMENT</text>
<text class="lb" font-size="14" x="2052.5" y="790" text-anchor="start" textLength="78" lengthAdjust="spacingAndGlyphs">EXISTING  4"</text>
<text class="lb" font-size="14" x="2052.5" y="803.8" text-anchor="start" textLength="78" lengthAdjust="spacingAndGlyphs">WATER  MAIN</text>
<text class="lb" font-size="13.5" x="2028.5" y="867.5" text-anchor="start" textLength="150" lengthAdjust="spacingAndGlyphs">CORD:  N36°22'40"W  37.86'</text>
<text class="lb" font-size="13.5" x="2028.5" y="881" text-anchor="start" textLength="86" lengthAdjust="spacingAndGlyphs">RADIUS:  25.0</text>
<text class="lb" font-size="14" x="2033.5" y="922.5" text-anchor="start" textLength="89" lengthAdjust="spacingAndGlyphs">PROPOSED  4"</text>
<text class="lb" font-size="14" x="2033.5" y="936.3" text-anchor="start" textLength="78" lengthAdjust="spacingAndGlyphs">WATER  MAIN</text>
<text class="lb" font-size="9.5" x="2040" y="892.5" text-anchor="start" textLength="15" lengthAdjust="spacingAndGlyphs">C22</text>
<text class="lb" font-size="9.5" x="2030" y="955" text-anchor="start" textLength="16" lengthAdjust="spacingAndGlyphs">C23</text>
</g>
<g>
<use href="#check" transform="translate(2152.6,975) scale(1)"/>
<use href="#tools" transform="translate(2110,1045) scale(1)"/>
<use href="#bulb" transform="translate(2100,1160) scale(1)"/>
<use href="#bulb" transform="translate(1594.4,517.6) scale(0.7066)"/>
<use href="#bulb" transform="translate(1464.8,540.5) scale(0.7219)"/>
<use href="#bulb" transform="translate(1389.9,607.9) scale(0.7206)"/>
<use href="#bulb" transform="translate(1334.5,707) scale(0.7286)"/>
<use href="#bulb" transform="translate(1239.2,741.2) scale(0.721)"/>
<use href="#bulb" transform="translate(1366.2,934.4) scale(0.5846)"/>
<use href="#tools" transform="translate(1466.5,958.1) scale(0.7161)"/>
<use href="#tools" transform="translate(1545.9,924.9) scale(0.7201)"/>
<use href="#check" transform="translate(1815,650) scale(0.7414)"/>
<use href="#check" transform="translate(1642.5,907.5) scale(0.7414)"/>
<use href="#check" transform="translate(1723.8,966.2) scale(0.7414)"/>
</g>
<g>
<circle cx="1611" cy="1121" r="30" fill="#de0000"/>
<text class="num" transform="translate(1611.5,1130.2) scale(0.92,1)">1</text>
<circle cx="1880" cy="898.8" r="30" fill="#de0000"/>
<text class="num" transform="translate(1880.5,908) scale(0.92,1)">2</text>
<circle cx="1753.8" cy="873.8" r="30" fill="#3fb04f"/>
<text class="num" transform="translate(1754.2,883) scale(0.92,1)">3</text>
<circle cx="1641.2" cy="837.5" r="30" fill="#3fb04f"/>
<text class="num" transform="translate(1641.8,846.7) scale(0.92,1)">4</text>
<circle cx="1546.2" cy="877.5" r="30" fill="#fea302"/>
<text class="num" transform="translate(1546.8,886.7) scale(0.92,1)">5</text>
<circle cx="1472" cy="917.5" r="30" fill="#fea302"/>
<text class="num" transform="translate(1472.5,926.7) scale(0.92,1)">6</text>
<circle cx="1336.2" cy="915" r="30" fill="#214aab"/>
<text class="num" transform="translate(1336.8,924.2) scale(0.92,1)">7</text>
<circle cx="1216.2" cy="736.2" r="30" fill="#214aab"/>
<text class="num" transform="translate(1216.8,745.5) scale(0.92,1)">8</text>
<circle cx="1320" cy="640" r="30" fill="#214aab"/>
<text class="num" transform="translate(1320.5,649.2) scale(0.92,1)">9</text>
<circle cx="1393" cy="562.5" r="30" fill="#214aab"/>
<text class="num" transform="translate(1393.5,571.7) scale(0.92,1)">10</text>
<circle cx="1502" cy="491" r="30" fill="#214aab"/>
<text class="num" transform="translate(1502.5,500.2) scale(0.92,1)">11</text>
<circle cx="1642.5" cy="469.5" r="30" fill="#214aab"/>
<text class="num" transform="translate(1643,478.7) scale(0.92,1)">12</text>
<circle cx="1815" cy="560" r="30" fill="#3fb04f"/>
<text class="num" transform="translate(1815.5,569.2) scale(0.92,1)">13</text>
</g>
<g>
<rect x="1655.5" y="1105.4" width="87.8" height="31.4" rx="3.5" fill="#e20a14"/>
<text x="1661.6" y="1130.5" class="sold" font-size="26.1" textLength="75.5" lengthAdjust="spacingAndGlyphs">SOLD</text>
<rect x="1786" y="988.8" width="74" height="26.2" rx="3.5" fill="#e20a14"/>
<text x="1791.2" y="1009.7" class="sold" font-size="21.8" textLength="63.6" lengthAdjust="spacingAndGlyphs">SOLD</text>
</g>
<g>
<text class="leg" transform="translate(2224,988.5) scale(0.962,1)">Ready for Purchase</text>
<text class="leg" transform="translate(2224,1116) scale(0.962,1)">Under Construction</text>
<text class="leg" transform="translate(2224,1242.5) scale(0.962,1)">To Be Determined</text>
</g>
</svg>
</body>
</html>
